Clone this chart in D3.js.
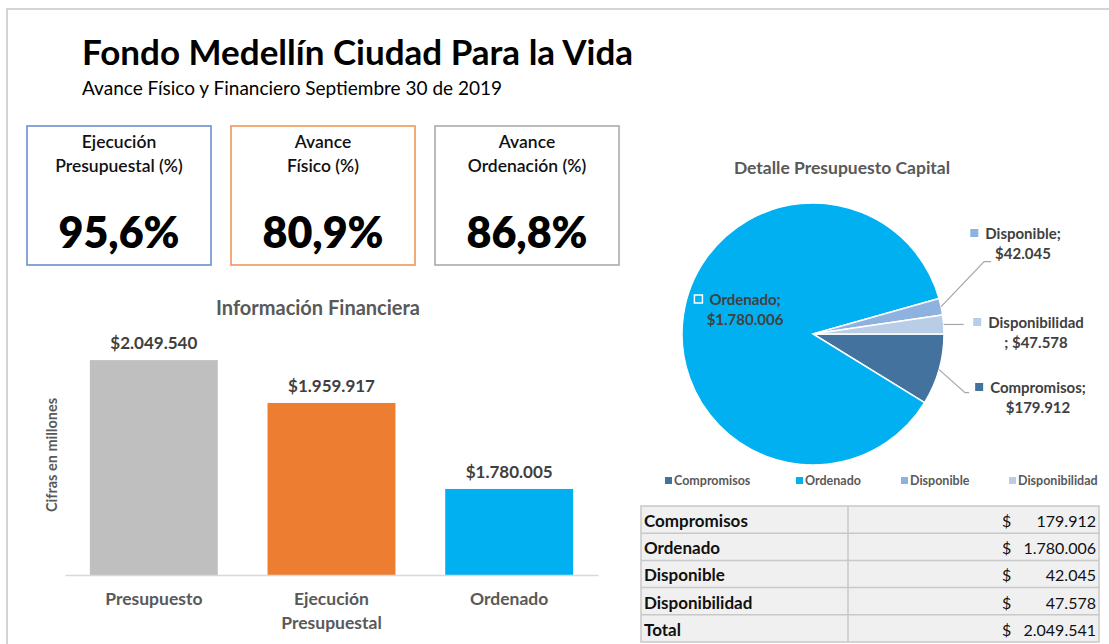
<!DOCTYPE html>
<html>
<head>
<meta charset="utf-8">
<title>Fondo Medellín Ciudad Para la Vida</title>
<style>
  body { margin: 0; background: #fff; font-family: Lato, "Noto Sans", sans-serif; }
  svg text { font-family: Lato, "Noto Sans", sans-serif; }
</style>
</head>
<body>
<svg id="chart" width="1109" height="644"></svg>
<script src="https://cdn.jsdelivr.net/npm/d3@7"></script>
<script>
// datos
const kpiLabels = [["Ejecución", "Presupuestal (%)"], ["Avance", "Físico (%)"], ["Avance", "Ordenación (%)"]];
const kpiValues = [95.6, 80.9, 86.8];

const barCategories = [["Presupuesto"], ["Ejecución", "Presupuestal"], ["Ordenado"]];
const barValues = [2049540, 1959917, 1780005];

const pieCategories = ["Compromisos", "Ordenado", "Disponible", "Disponibilidad"];
const pieValues = [179912, 1780006, 42045, 47578];
const totalLabel = "Total";
const totalValue = 2049541;

const locale = d3.formatLocale({ decimal: ",", thousands: ".", grouping: [3], currency: ["$", ""] });
const fmtMoney = locale.format("$,.0f");
const fmtNum = locale.format(",.0f");
const fmtPct = locale.format(".1f");

const svg = d3.select("#chart");

// marco exterior
svg.append("path")
  .attr("d", "M7,644 L7,9 L1109,9")
  .attr("fill", "none").attr("stroke", "#d4d4d4").attr("stroke-width", 2);

// titulo
svg.append("text").attr("x", 82).attr("y", 65)
  .attr("font-size", 35).attr("font-weight", 700).attr("fill", "#000")
  .text("Fondo Medellín Ciudad Para la Vida");
svg.append("text").attr("x", 82).attr("y", 95)
  .attr("font-size", 19).attr("fill", "#000")
  .text("Avance Físico y Financiero Septiembre 30 de 2019");

// tarjetas KPI
const kpiColors = ["#6b8fd3", "#f0955b", "#ababab"];
const kpiX = d3.scaleBand().domain(d3.range(3)).range([27, 619]).paddingInner(0.098);
const kpi = svg.selectAll(".kpi").data(kpiValues).enter().append("g")
  .attr("class", "kpi")
  .attr("transform", (d, i) => `translate(${kpiX(i)},126)`);
kpi.append("rect")
  .attr("width", kpiX.bandwidth()).attr("height", 139)
  .attr("fill", "#fff").attr("stroke", (d, i) => kpiColors[i]).attr("stroke-width", 1.6);
kpi.each(function(d, i) {
  const g = d3.select(this);
  kpiLabels[i].forEach((t, j) => {
    g.append("text").attr("x", kpiX.bandwidth() / 2).attr("y", 22 + j * 24)
      .attr("text-anchor", "middle").attr("font-size", 17.5).attr("font-weight", 600)
      .attr("fill", "#111").text(t);
  });
});
kpi.append("text")
  .attr("x", kpiX.bandwidth() / 2).attr("y", 122)
  .attr("text-anchor", "middle").attr("font-size", 43).attr("font-weight", 800)
  .attr("fill", "#000")
  .text(d => fmtPct(d) + "%");

// grafico de barras
const barColors = ["#bfbfbf", "#ed7d31", "#00b0f0"];
const x = d3.scaleBand().domain(d3.range(barValues.length)).range([65, 598]).paddingInner(0.28).paddingOuter(0.14);
const y = d3.scaleLinear().domain([1600000, 2100000]).range([575, 336]);

svg.append("text").attr("x", 318).attr("y", 315)
  .attr("text-anchor", "middle").attr("font-size", 20).attr("font-weight", 700)
  .attr("fill", "#595959").text("Información Financiera");

svg.selectAll(".bar").data(barValues).enter().append("rect")
  .attr("class", "bar")
  .attr("x", (d, i) => x(i)).attr("width", x.bandwidth())
  .attr("y", d => y(d)).attr("height", d => y.range()[0] - y(d))
  .attr("fill", (d, i) => barColors[i]);

svg.selectAll(".barlabel").data(barValues).enter().append("text")
  .attr("x", (d, i) => x(i) + x.bandwidth() / 2).attr("y", d => y(d) - 11)
  .attr("text-anchor", "middle").attr("font-size", 17).attr("font-weight", 700)
  .attr("fill", "#404040").text(d => fmtMoney(d));

const xAxis = svg.append("g").attr("transform", `translate(0,${y.range()[0]})`)
  .call(d3.axisBottom(x).tickSize(0).tickFormat(""));
xAxis.select(".domain").attr("stroke", "#d9d9d9").attr("stroke-width", 1.5);

barCategories.forEach((lines, i) => {
  lines.forEach((t, j) => {
    svg.append("text").attr("x", x(i) + x.bandwidth() / 2).attr("y", 605 + j * 24)
      .attr("text-anchor", "middle").attr("font-size", 17.5).attr("font-weight", 700)
      .attr("fill", "#595959").text(t);
  });
});

svg.append("text")
  .attr("transform", "translate(57,455) rotate(-90)")
  .attr("text-anchor", "middle").attr("font-size", 14.5).attr("font-weight", 700)
  .attr("fill", "#595959").text("Cifras en millones");

// grafico de torta
const pieColors = ["#44729e", "#00b0f0", "#8eb2e0", "#b9cde6"];
const cx = 813, cy = 334, r = 131;
const pie = d3.pie().sort(null).startAngle(Math.PI / 2).endAngle(Math.PI / 2 + 2 * Math.PI);
const arcs = pie(pieValues);
const arc = d3.arc().innerRadius(0).outerRadius(r);

svg.append("text").attr("x", 842).attr("y", 174)
  .attr("text-anchor", "middle").attr("font-size", 17.5).attr("font-weight", 700)
  .attr("fill", "#595959").text("Detalle Presupuesto Capital");

const pg = svg.append("g").attr("transform", `translate(${cx},${cy})`);
pg.selectAll("path").data(arcs).enter().append("path")
  .attr("d", arc).attr("fill", (d, i) => pieColors[i])
  .attr("stroke", "#fff").attr("stroke-width", 1.5);

// posicion de etiquetas (relativa al centro)
const labelLayout = {
  Compromisos:    { x: 225, y: 59,  lead: [[26, 23], [30, 23]] },
  Ordenado:       { x: -68, y: -29, lead: null, inside: true },
  Disponible:     { x: 210, y: -95, lead: [[43, -45], [50, -45]] },
  Disponibilidad: { x: 223, y: -6,  lead: [[20, 0]] }
};
arcs.forEach((a, i) => {
  const name = pieCategories[i];
  const L = labelLayout[name];
  const mid = (a.startAngle + a.endAngle) / 2;
  const p0 = [Math.sin(mid) * r, -Math.cos(mid) * r];
  if (L.lead) {
    const pts = [p0].concat(L.lead.map(q => [p0[0] + q[0], p0[1] + q[1]]));
    pg.append("path").attr("d", d3.line()(pts))
      .attr("fill", "none").attr("stroke", "#a6a6a6").attr("stroke-width", 1.2);
  }
  let line1 = name + ";", line2 = fmtMoney(a.data);
  if (name === "Disponibilidad") { line1 = name; line2 = "; " + fmtMoney(a.data); }
  const t1 = pg.append("text").attr("x", L.x).attr("y", L.y)
    .attr("text-anchor", "middle").attr("font-size", 15).attr("font-weight", 700)
    .attr("fill", "#404040").text(line1);
  pg.append("text").attr("x", L.x).attr("y", L.y + 20)
    .attr("text-anchor", "middle").attr("font-size", 15).attr("font-weight", 700)
    .attr("fill", "#404040").text(line2);
  const w = t1.node().getComputedTextLength();
  pg.append("rect").attr("x", L.x - w / 2 - 15).attr("y", L.y - 10).attr("width", 8).attr("height", 8)
    .attr("fill", L.inside ? "none" : pieColors[i])
    .attr("stroke", L.inside ? "#fff" : "none").attr("stroke-width", 1.5);
});

// leyenda
const legStarts = [665, 796, 901, 1009];
pieCategories.forEach((c, i) => {
  const g = svg.append("g").attr("transform", `translate(${legStarts[i]},481)`);
  g.append("rect").attr("x", 0).attr("y", -4).attr("width", 7).attr("height", 7).attr("fill", pieColors[i]);
  g.append("text").attr("x", 9).attr("y", 4).attr("font-size", 12.5).attr("font-weight", 700)
    .attr("fill", "#595959").text(c);
});

// tabla
const rows = pieCategories.map((c, i) => [c, pieValues[i]]).concat([[totalLabel, totalValue]]);
const rowY = d3.scaleBand().domain(d3.range(rows.length)).range([506, 642]);
const tg = svg.append("g");
tg.append("rect").attr("x", 641).attr("y", 506).attr("width", 458).attr("height", 136)
  .attr("fill", "#f0f0f0").attr("stroke", "#c8c8c8").attr("stroke-width", 1.5);
rows.forEach((row, i) => {
  const y0 = rowY(i);
  if (i > 0) tg.append("line").attr("x1", 641).attr("x2", 1099).attr("y1", y0).attr("y2", y0)
    .attr("stroke", "#c8c8c8").attr("stroke-width", 1.5);
  tg.append("text").attr("x", 644).attr("y", y0 + 21)
    .attr("font-size", 17).attr("font-weight", 700).attr("fill", "#111").text(row[0]);
  const num = tg.append("text").attr("x", 1096).attr("y", y0 + 21).attr("text-anchor", "end")
    .attr("font-size", 16).attr("fill", "#111").text(fmtNum(row[1]));
  const nw = num.node().getComputedTextLength();
  tg.append("text").attr("x", Math.min(1002, 1096 - nw - 14)).attr("y", y0 + 21)
    .attr("font-size", 16).attr("fill", "#111").text("$");
});
tg.append("line").attr("x1", 848).attr("x2", 848).attr("y1", 506).attr("y2", 642)
  .attr("stroke", "#c8c8c8").attr("stroke-width", 1.5);
</script>
</body>
</html>
